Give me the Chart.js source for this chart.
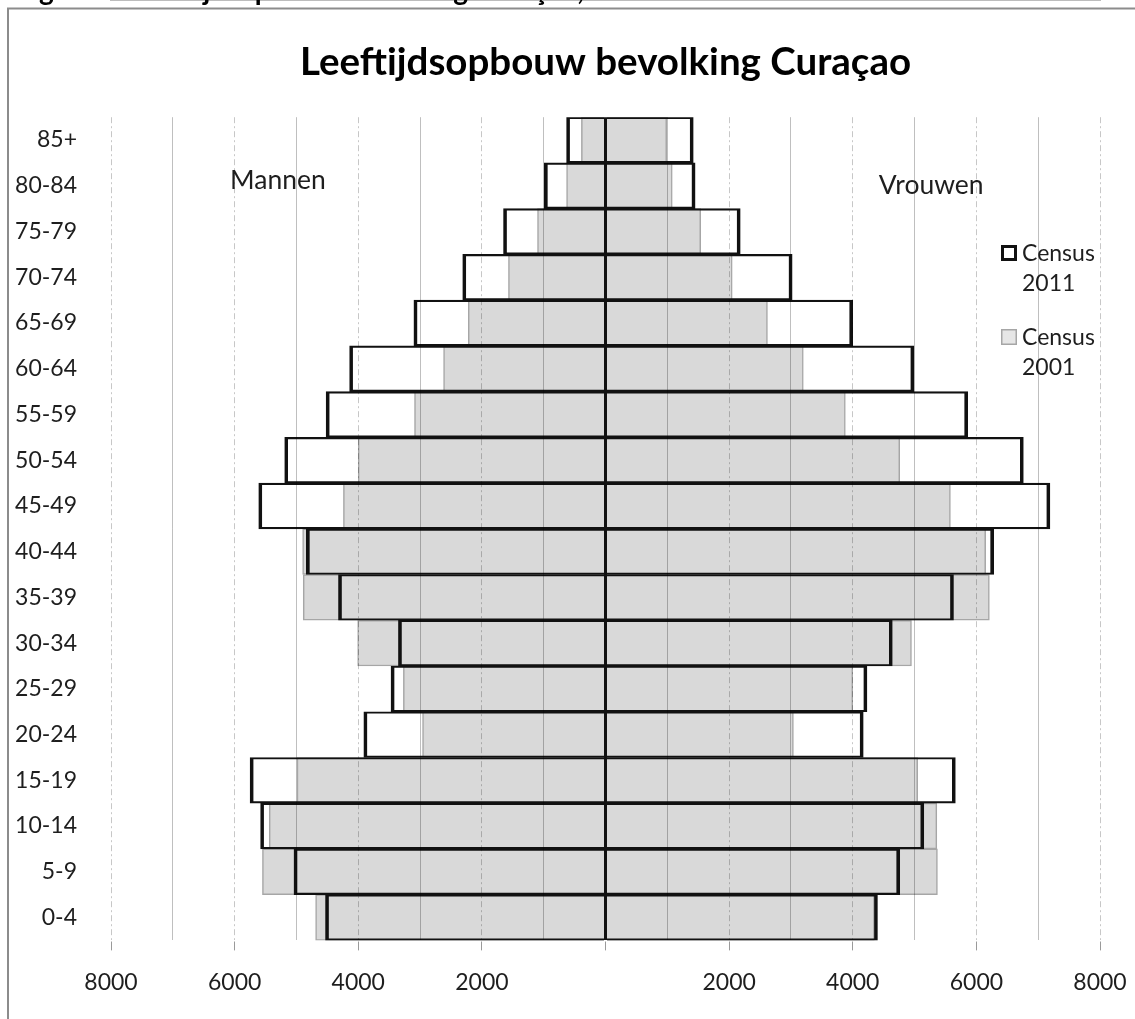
<!DOCTYPE html>
<html>
<head>
<meta charset="utf-8">
<script src="https://cdn.jsdelivr.net/npm/chart.js@4.4.1/dist/chart.umd.min.js"></script>
<style>
  html, body { margin: 0; padding: 0; background: #fff; overflow: hidden; }
  canvas { display: block; }
</style>
</head>
<body>
<canvas id="myChart" width="1135" height="1019"></canvas>
<script>
// leeftijdsgroepen, van jong naar oud
const ageGroups = ['0-4', '5-9', '10-14', '15-19', '20-24', '25-29', '30-34', '35-39', '40-44',
  '45-49', '50-54', '55-59', '60-64', '65-69', '70-74', '75-79', '80-84', '85+'];

// Census 2011
const men2011 = [4530, 5040, 5580, 5750, 3910, 3470, 3350, 4320, 4840,
  5610, 5190, 4520, 4140, 3100, 2310, 1650, 990, 630];
const women2011 = [4400, 4760, 5150, 5660, 4170, 4230, 4640, 5630, 6280,
  7190, 6760, 5860, 4990, 4000, 3020, 2180, 1450, 1420];

// Census 2001
const men2001 = [4690, 5550, 5440, 4990, 2960, 3270, 4010, 4890, 4900,
  4240, 4000, 3090, 2620, 2220, 1570, 1100, 630, 390];
const women2001 = [4350, 5370, 5360, 5050, 3040, 4000, 4950, 6210, 6150,
  5580, 4760, 3880, 3200, 2620, 2050, 1540, 1080, 990];

const xTicks = [-8000, -6000, -4000, -2000, 2000, 4000, 6000, 8000];

const FONT = 'Lato';
const TEXT = '#1e1e1e';
const GREY_FILL = '#d9d9d9';
const GREY_LINE = '#a6a6a6';

const neg = arr => arr.map(v => -v);

// kader van de figuur en afgesneden bijschrift erboven
const frame = {
  id: 'frame',
  afterDraw(chart) {
    const { ctx, width, height } = chart;
    ctx.save();
    ctx.fillStyle = '#000';
    ctx.font = 'bold 28px ' + FONT;
    ctx.textBaseline = 'alphabetic';
    ctx.textAlign = 'left';
    ctx.fillText('Figuur 1: Leeftijdsopbouw bevolking Curaçao, 2001 en 2011', 16, 0);
    ctx.strokeStyle = '#8c8c8c';
    ctx.lineWidth = 2;
    ctx.beginPath();
    ctx.moveTo(8, height);
    ctx.lineTo(8, 8.5);
    ctx.lineTo(width, 8.5);
    ctx.stroke();
    ctx.restore();
  }
};

// tekst in de grafiek + legenda
const annotations = {
  id: 'annotations',
  afterDraw(chart) {
    const { ctx, chartArea, scales } = chart;
    const x = scales.x, y = scales.y;
    ctx.save();
    ctx.fillStyle = TEXT;
    ctx.textAlign = 'center';
    ctx.textBaseline = 'middle';
    ctx.font = '26.5px ' + FONT;
    ctx.fillText('Mannen', x.getPixelForValue(-5300), y.getPixelForValue(16) - 5);
    ctx.fillText('Vrouwen', x.getPixelForValue(5270), y.getPixelForValue(16));

    // legenda
    ctx.font = '23px ' + FONT;
    const lx = chartArea.right - 99;
    const items = [
      { top: 245, fill: '#ffffff', line: '#111', width: 3, text: ['Census', '2011'] },
      { top: 329, fill: '#e6e6e6', line: GREY_LINE, width: 1.5, text: ['Census', '2001'] },
    ];
    items.forEach(it => {
      ctx.fillStyle = it.fill;
      ctx.fillRect(lx, it.top, 16, 16);
      ctx.strokeStyle = it.line;
      ctx.lineWidth = it.width;
      ctx.strokeRect(lx + it.width / 2, it.top + it.width / 2, 16 - it.width, 16 - it.width);
      ctx.fillStyle = TEXT;
      ctx.textAlign = 'left';
      ctx.fillText(it.text[0], lx + 21, it.top + 9);
      ctx.fillText(it.text[1], lx + 21, it.top + 39);
    });
    ctx.restore();
  }
};

const isMajor = v => v % 2000 === 0;

const ctx = document.getElementById('myChart');
const myChart = new Chart(ctx, {
  type: 'bar',
  data: {
    labels: ageGroups,
    datasets: [
      {
        label: 'Census 2011 mannen',
        data: neg(men2011),
        backgroundColor: 'transparent',
        borderColor: '#111',
        borderWidth: { top: 1.5, bottom: 1.5, left: 3, right: 3 },
      },
      {
        label: 'Census 2011 vrouwen',
        data: women2011,
        backgroundColor: 'transparent',
        borderColor: '#111',
        borderWidth: { top: 1.5, bottom: 1.5, left: 3, right: 3 },
      },
      {
        label: 'Census 2001 mannen',
        data: neg(men2001),
        backgroundColor: GREY_FILL,
        borderColor: GREY_LINE,
        borderWidth: 1.5,
      },
      {
        label: 'Census 2001 vrouwen',
        data: women2001,
        backgroundColor: GREY_FILL,
        borderColor: GREY_LINE,
        borderWidth: 1.5,
      },
    ],
  },
  options: {
    responsive: false,
    animation: false,
    indexAxis: 'y',
    layout: { padding: { left: 0, right: 35, top: 0, bottom: 5 } },
    datasets: {
      bar: { grouped: false, categoryPercentage: 1, barPercentage: 1 }
    },
    scales: {
      x: {
        type: 'linear',
        min: -8000,
        max: 8000,
        ticks: {
          stepSize: 1000,
          autoSkip: false,
          maxRotation: 0,
          padding: 18,
          color: TEXT,
          font: { family: FONT, size: 23 },
          callback: v => (xTicks.includes(v) ? String(Math.abs(v)) : ''),
        },
        grid: {
          z: 1,
          color: c => (c.tick.value === 0 ? '#111' : (isMajor(c.tick.value) ? 'rgba(0,0,0,0.22)' : 'rgba(0,0,0,0.25)')),
          lineWidth: c => (c.tick.value === 0 ? 3 : 1),
          tickColor: c => (isMajor(c.tick.value) ? '#9a9a9a' : 'transparent'),
          tickWidth: 1,
          tickLength: 10,
        },
        border: {
          color: GREY_LINE,
          width: 1.5,
          dash: c => (c.tick && c.tick.value !== 0 && isMajor(c.tick.value) ? [6, 3, 2, 3] : []),
        },
        afterFit: s => { s.paddingLeft = 0; s.paddingRight = 0; },
      },
      y: {
        type: 'category',
        reverse: true,
        grid: { display: false },
        border: { display: false },
        ticks: {
          padding: 26,
          color: TEXT,
          font: { family: FONT, size: 23 },
        },
        afterFit: s => { s.width = 111; s.paddingTop = 0; s.paddingBottom = 0; },
      },
    },
    plugins: {
      legend: { display: false },
      title: {
        display: true,
        fullSize: false,
        text: 'Leeftijdsopbouw bevolking Curaçao',
        color: '#000',
        font: { family: FONT, size: 38.5, weight: 'bold' },
        padding: { top: 39, bottom: 32 },
      },
      tooltip: {
        callbacks: {
          label: c => c.dataset.label + ': ' + Math.abs(c.raw),
        },
      },
    },
  },
  plugins: [frame, annotations],
});
</script>
</body>
</html>
